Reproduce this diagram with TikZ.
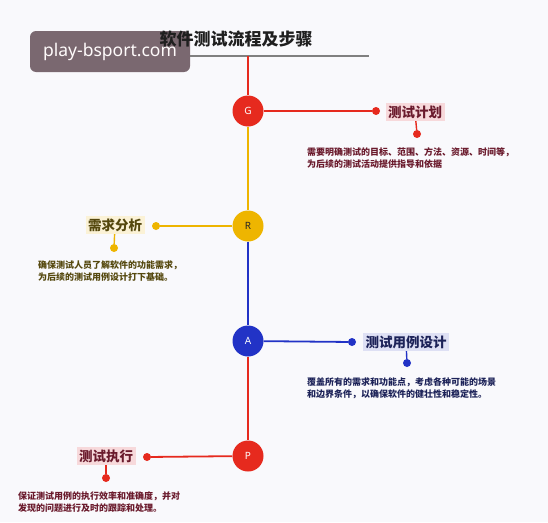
\documentclass[tikz,border=0pt]{standalone}
\usepackage{fontspec}
\newfontfamily\cjk{Noto Sans CJK SC}
\newfontfamily\lat{Noto Sans}
\definecolor{bgc}{HTML}{F9F9FC}
\definecolor{cred}{HTML}{E62A1E}
\definecolor{cyel}{HTML}{EEB500}
\definecolor{cblu}{HTML}{2233C6}
\definecolor{tred}{HTML}{6A1A2C}
\definecolor{tyel}{HTML}{55480E}
\definecolor{tblu}{HTML}{1C2258}
\definecolor{bred}{HTML}{F7D9DB}
\definecolor{byel}{HTML}{FBF2D6}
\definecolor{bblu}{HTML}{DEE0F4}
\definecolor{wmk}{HTML}{7A6870}
\definecolor{hline}{HTML}{808080}
\begin{document}
\begin{tikzpicture}[x=1pt,y=-1pt,
  stepcirc/.style={circle,fill=#1,minimum size=31pt,inner sep=0pt,font=\lat\bfseries\fontsize{10}{10}\selectfont,text=white},
  conn/.style={draw=#1,line width=1.8pt},
  dotn/.style={circle,fill=#1,minimum size=8pt,inner sep=0pt},
  lab/.style={fill=#1,inner sep=2.5pt,font=\cjk\bfseries\fontsize{13.5}{15}\selectfont},
  desc/.style={anchor=north west,inner sep=0pt,align=left,font=\cjk\bfseries\fontsize{9}{12}\selectfont}]
\useasboundingbox (0,0) rectangle (548,522);
\fill[bgc] (0,0) rectangle (548,522);
% watermark
\node[fill=wmk,rounded corners=6pt,minimum width=160pt,minimum height=41pt,inner sep=0pt,text=white!93!pink,font=\lat\fontsize{17.5}{19}\selectfont] (wm) at (110,51.5) {play-bsport.com};
% title
\node[font=\cjk\bfseries\fontsize{17}{19}\selectfont,text=black!88] (title) at (236,39) {软件测试流程及步骤};
\coordinate (hl) at (190,56);
\coordinate (hr) at (369,56);
\draw[hline,line width=1.4pt] (hl) -- (hr);
\coordinate (top) at (248,56);
% circles
\node[stepcirc=cred] (G) at (248,111) {G};
\node[stepcirc=cyel,text=black!85] (R) at (248,226) {R};
\node[stepcirc=cblu] (A) at (248,341) {A};
\node[stepcirc=cred] (P) at (248,456) {P};
% vertical lines
\draw[conn=cred] (top) -- (G);
\draw[conn=cyel] (G) -- (R);
\draw[conn=cblu] (R) -- (A);
\draw[conn=cred] (A) -- (P);
% G branch
\node[dotn=cred] (gd) at (376,111) {};
\node[lab=bred,text=tred] (gl) at (415,112) {测试计划};
\node[dotn=cred] (gd2) at (417,134) {};
\draw[conn=cred] (G) -- (gd);
\draw[draw=cred,line width=1.4pt] (gl) -- (gd2);
\node[desc,text=tred] (gt) at (307,147) {需要明确测试的目标、范围、方法、资源、时间等，\\为后续的测试活动提供指导和依据};
% R branch
\node[dotn=cyel] (rd) at (156,226) {};
\node[lab=byel,text=tyel] (rl) at (115,225) {需求分析};
\node[dotn=cyel] (rd2) at (114,248) {};
\draw[conn=cyel] (R) -- (rd);
\draw[draw=cyel,line width=1.4pt] (rl) -- (rd2);
\node[desc,text=tyel] (rt) at (38,261) {确保测试人员了解软件的功能需求，\\为后续的测试用例设计打下基础。};
% A branch
\node[dotn=cblu] (ad) at (352,342) {};
\node[lab=bblu,text=tblu] (al) at (406,342) {测试用例设计};
\node[dotn=cblu] (ad2) at (407,363) {};
\draw[conn=cblu] (A) -- (ad);
\draw[draw=cblu,line width=1.4pt] (al) -- (ad2);
\node[desc,text=tblu] (at) at (307,377) {覆盖所有的需求和功能点，考虑各种可能的场景\\和边界条件，以确保软件的健壮性和稳定性。};
% P branch
\node[dotn=cred] (pd) at (147,457) {};
\node[lab=bred,text=tred] (pl) at (106,456) {测试执行};
\node[dotn=cred] (pd2) at (106,478) {};
\draw[conn=cred] (P) -- (pd);
\draw[draw=cred,line width=1.4pt] (pl) -- (pd2);
\node[desc,text=tred] (pt) at (18,492) {保证测试用例的执行效率和准确度，并对\\发现的问题进行及时的跟踪和处理。};
\end{tikzpicture}
\end{document}
